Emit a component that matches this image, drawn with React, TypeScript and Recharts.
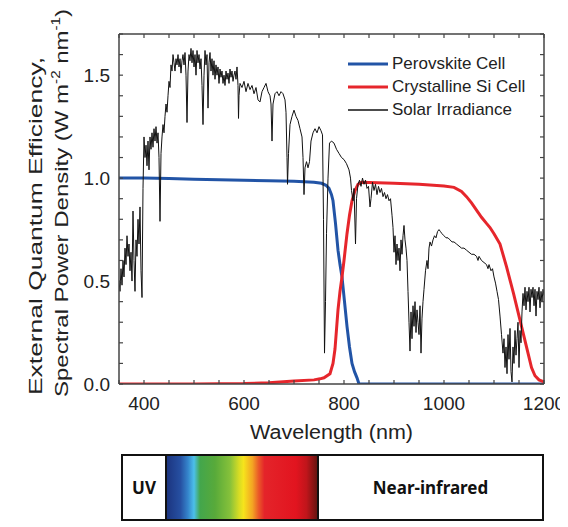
import { LineChart, Line, XAxis, YAxis } from 'recharts';

const BLUE = '#2254a6';
const RED = '#e6262c';
const INK = '#222';
const AXIS = '#444';
const FONT = '"Liberation Sans", Arial, sans-serif';
const TICK_LEN = 4;

// EQE curves, [wavelength nm, value]
const perovskiteEqe: [number, number][] = [
  [350, 1.0], [400, 1.0], [450, 0.998], [500, 0.995], [550, 0.992], [600, 0.99],
  [650, 0.987], [700, 0.985], [740, 0.98], [755, 0.975], [764, 0.965], [770, 0.95],
  [775, 0.92], [778, 0.89], [783, 0.78], [788, 0.65], [792, 0.58], [796, 0.52],
  [801, 0.4], [806, 0.28], [811, 0.18], [816, 0.1], [821, 0.06], [826, 0.03],
  [830, 0.0], [900, 0.0], [1000, 0.0], [1100, 0.0], [1200, 0.0],
];

const siliconEqe: [number, number][] = [
  [350, 0.0], [500, 0.0], [600, 0.002], [650, 0.006], [700, 0.014], [740, 0.02],
  [752, 0.025], [760, 0.03], [772, 0.05], [778, 0.1], [782, 0.17], [788, 0.36],
  [792, 0.45], [796, 0.52], [800, 0.6], [806, 0.73], [811, 0.82], [816, 0.89],
  [822, 0.94], [828, 0.97], [835, 0.98], [900, 0.975], [950, 0.97], [1000, 0.962],
  [1020, 0.955], [1035, 0.935], [1045, 0.91], [1055, 0.88], [1065, 0.845],
  [1075, 0.81], [1085, 0.78], [1092, 0.76], [1100, 0.73], [1112, 0.68],
  [1125, 0.57], [1139, 0.44], [1152, 0.31], [1165, 0.18], [1175, 0.08],
  [1182, 0.04], [1190, 0.02], [1200, 0.01],
];

// AM1.5 spectral power density, W m^-2 nm^-1
const solarIrradiance: [number, number][] = [
  [350, 0.5], [352, 0.45], [354, 0.56], [356, 0.48], [358, 0.6], [360, 0.52],
  [362, 0.66], [364, 0.58], [366, 0.72], [368, 0.62], [370, 0.68], [372, 0.55],
  [374, 0.64], [376, 0.5], [378, 0.84], [380, 0.6], [382, 0.45], [384, 0.7],
  [386, 0.62], [388, 0.8], [390, 0.68], [392, 0.86], [394, 0.55], [396, 0.42],
  [398, 0.95], [400, 1.2], [402, 1.1], [404, 1.16], [406, 1.06], [408, 1.18],
  [410, 1.04], [412, 1.2], [414, 1.14], [416, 1.22], [418, 1.15], [420, 1.24],
  [422, 1.18], [424, 1.25], [426, 1.17], [428, 1.22], [430, 1.1], [432, 0.79],
  [434, 1.12], [436, 1.2], [438, 1.26], [440, 1.22], [442, 1.3], [444, 1.36],
  [446, 1.32], [448, 1.4], [450, 1.47], [452, 1.44], [454, 1.55], [456, 1.52],
  [458, 1.6], [460, 1.56], [462, 1.52], [464, 1.58], [466, 1.55], [468, 1.6],
  [470, 1.54], [472, 1.58], [474, 1.51], [476, 1.57], [478, 1.6], [480, 1.55],
  [482, 1.61], [484, 1.5], [486, 1.27], [488, 1.52], [490, 1.6], [492, 1.57],
  [494, 1.63], [496, 1.56], [498, 1.62], [500, 1.54], [502, 1.6], [504, 1.5],
  [506, 1.62], [508, 1.56], [510, 1.6], [512, 1.53], [514, 1.58], [516, 1.45],
  [518, 1.26], [520, 1.5], [522, 1.62], [524, 1.55], [526, 1.6], [528, 1.34],
  [530, 1.56], [532, 1.61], [534, 1.52], [536, 1.58], [538, 1.5], [540, 1.57],
  [542, 1.48], [544, 1.55], [546, 1.5], [548, 1.54], [550, 1.46], [552, 1.53],
  [554, 1.49], [556, 1.52], [558, 1.46], [560, 1.5], [562, 1.45], [564, 1.52],
  [566, 1.48], [568, 1.51], [570, 1.46], [572, 1.53], [574, 1.49], [576, 1.52],
  [578, 1.47], [580, 1.5], [582, 1.52], [584, 1.48], [586, 1.54], [588, 1.45],
  [589, 1.29], [590, 1.4], [592, 1.46], [596, 1.44], [600, 1.47], [604, 1.42],
  [608, 1.46], [612, 1.43], [616, 1.45], [620, 1.41], [624, 1.44], [628, 1.38],
  [632, 1.37], [636, 1.42], [640, 1.44], [644, 1.46], [648, 1.42], [652, 1.4],
  [654, 1.36], [656, 1.18], [658, 1.36], [662, 1.41], [666, 1.42], [670, 1.4],
  [674, 1.42], [678, 1.41], [682, 1.38], [684, 1.32], [686, 1.1], [687, 0.97],
  [689, 1.12], [692, 1.26], [696, 1.3], [700, 1.33], [704, 1.3], [708, 1.28],
  [712, 1.24], [716, 1.2], [718, 1.1], [720, 0.92], [722, 1.05], [725, 1.08],
  [728, 1.05], [731, 1.08], [734, 1.18], [738, 1.22], [742, 1.24], [746, 1.22],
  [750, 1.25], [754, 1.23], [757, 1.21], [759, 0.8], [761, 0.15], [763, 0.4],
  [765, 0.73], [768, 1.0], [771, 1.17], [775, 1.18], [780, 1.17], [785, 1.14],
  [790, 1.12], [795, 1.1], [800, 1.09], [805, 1.07], [810, 1.04], [813, 1.0],
  [815, 0.94], [818, 0.89], [820, 0.95], [823, 0.68], [825, 0.9], [828, 0.97],
  [831, 0.99], [834, 0.96], [837, 1.0], [840, 0.97], [843, 0.99], [846, 0.95],
  [849, 0.96], [852, 0.86], [854, 0.9], [857, 0.98], [860, 0.94], [863, 0.97],
  [866, 0.92], [869, 0.96], [872, 0.93], [875, 0.95], [878, 0.91], [881, 0.93],
  [884, 0.9], [887, 0.92], [890, 0.89], [893, 0.9], [896, 0.82], [898, 0.76],
  [900, 0.64], [902, 0.72], [904, 0.58], [906, 0.68], [908, 0.6], [910, 0.66],
  [912, 0.55], [914, 0.7], [916, 0.63], [918, 0.72], [920, 0.77], [922, 0.7],
  [924, 0.66], [926, 0.6], [928, 0.45], [930, 0.3], [932, 0.16], [934, 0.35],
  [936, 0.22], [938, 0.38], [940, 0.28], [942, 0.4], [944, 0.25], [946, 0.36],
  [948, 0.3], [950, 0.24], [952, 0.38], [954, 0.15], [956, 0.32], [958, 0.4],
  [960, 0.46], [963, 0.55], [966, 0.6], [968, 0.56], [970, 0.66], [972, 0.69],
  [975, 0.67], [978, 0.7], [981, 0.72], [984, 0.71], [987, 0.74], [990, 0.75],
  [993, 0.74], [996, 0.73], [1000, 0.72], [1004, 0.71], [1008, 0.71], [1012, 0.7],
  [1016, 0.69], [1020, 0.69], [1025, 0.68], [1030, 0.67], [1035, 0.66], [1040, 0.66],
  [1045, 0.65], [1050, 0.64], [1055, 0.63], [1060, 0.63], [1065, 0.62], [1068, 0.6],
  [1070, 0.62], [1075, 0.6], [1080, 0.59], [1085, 0.58], [1088, 0.56], [1090, 0.58],
  [1094, 0.55], [1097, 0.56], [1100, 0.52], [1103, 0.49], [1106, 0.45], [1109, 0.41],
  [1112, 0.33], [1115, 0.24], [1118, 0.15], [1120, 0.22], [1122, 0.08], [1124, 0.18],
  [1126, 0.05], [1128, 0.24], [1130, 0.12], [1132, 0.27], [1134, 0.06], [1136, 0.01],
  [1138, 0.18], [1140, 0.1], [1142, 0.26], [1144, 0.14], [1146, 0.22], [1148, 0.3],
  [1150, 0.08], [1152, 0.26], [1154, 0.2], [1156, 0.35], [1158, 0.44], [1160, 0.38],
  [1162, 0.47], [1164, 0.36], [1166, 0.45], [1168, 0.4], [1170, 0.47], [1172, 0.35],
  [1174, 0.46], [1176, 0.42], [1178, 0.47], [1180, 0.38], [1182, 0.46], [1184, 0.33],
  [1186, 0.45], [1188, 0.41], [1190, 0.47], [1192, 0.37], [1194, 0.45], [1196, 0.4],
  [1198, 0.46], [1200, 0.43],
];

const xTicks = [350, 400, 450, 500, 550, 600, 650, 700, 750, 800, 850, 900, 950, 1000, 1050, 1100, 1150, 1200];
const xLabeled = [400, 600, 800, 1000, 1200];
const yTicks = [0, 0.1, 0.2, 0.3, 0.4, 0.5, 0.6, 0.7, 0.8, 0.9, 1.0, 1.1, 1.2, 1.3, 1.4, 1.5, 1.6, 1.7];
const yLabeled = [0, 0.5, 1.0, 1.5];

// the irradiance is drawn on the top/right axis pair (same scales) so those axes carry data too
const series = [
  { name: 'Perovskite Cell', color: BLUE, width: 3, points: perovskiteEqe, xId: 'b', yId: 'l' },
  { name: 'Crystalline Si Cell', color: RED, width: 3, points: siliconEqe, xId: 'b', yId: 'l' },
  { name: 'Solar Irradiance', color: '#111', width: 1, points: solarIrradiance, xId: 't', yId: 'r' },
];

const toRows = (pts: [number, number][]) => pts.map(([wl, v]) => ({ wl, v }));

const spectrumGradient =
  'linear-gradient(to right, #1c3580 0%, #2650a2 9%, #3585cc 14%, #4cc0ea 18%, #43a64c 22%, #58aa3a 32%, #86c13a 42%, #d6dc24 48%, #f6e41c 51%, #f3a423 57%, #ea5a28 61%, #e4242a 65%, #e2141f 86%, #c0151b 93%, #681410 100%)';

// inward ticks: each tick draws its own mark, labelled ones also get text
function BottomTick({ x, y, payload }: any) {
  const v = payload.value;
  return (
    <g>
      <line x1={x} y1={y} x2={x} y2={y - TICK_LEN} stroke={AXIS} strokeWidth={1.2} />
      {xLabeled.includes(v) && (
        <text x={x} y={y + 26} textAnchor="middle" fill={INK} fontSize={19} fontFamily={FONT}>
          {v}
        </text>
      )}
    </g>
  );
}

function TopTick({ x, y }: any) {
  return <line x1={x} y1={y} x2={x} y2={y + TICK_LEN} stroke={AXIS} strokeWidth={1.2} />;
}

function LeftTick({ x, y, payload }: any) {
  const v = payload.value;
  const labelled = yLabeled.some((t) => Math.abs(t - v) < 1e-6);
  return (
    <g>
      <line x1={x} y1={y} x2={x + TICK_LEN} y2={y} stroke={AXIS} strokeWidth={1.2} />
      {labelled && (
        <text x={x - 9} y={y + 7} textAnchor="end" fill={INK} fontSize={19} fontFamily={FONT}>
          {v.toFixed(1)}
        </text>
      )}
    </g>
  );
}

function RightTick({ x, y }: any) {
  return <line x1={x} y1={y} x2={x - TICK_LEN} y2={y} stroke={AXIS} strokeWidth={1.2} />;
}

function YTitle(props: any) {
  const vb = props.viewBox || { x: 51, y: 26, width: 60, height: 350 };
  const y0 = vb.y + vb.height + 11;
  const x1 = 34;
  const x2 = 60;
  return (
    <g fill={INK} fontFamily={FONT} fontSize={19}>
      <text x={x1} y={y0} transform={`rotate(-90, ${x1}, ${y0})`} textLength={338} lengthAdjust="spacingAndGlyphs">
        External Quantum Efficiency,
      </text>
      <text x={x2} y={y0 + 2} transform={`rotate(-90, ${x2}, ${y0 + 2})`} textLength={388} lengthAdjust="spacingAndGlyphs">
        Spectral Power Density (W m
        <tspan dy={-8} fontSize={12}>-2</tspan>
        <tspan dy={8}> nm</tspan>
        <tspan dy={-8} fontSize={12}>-1</tspan>
        <tspan dy={8}>)</tspan>
      </text>
    </g>
  );
}

function XTitle(props: any) {
  const vb = props.viewBox || { x: 111, y: 376, width: 425, height: 45 };
  return (
    <text x={vb.x + vb.width / 2} y={vb.y + 55} textAnchor="middle" fill={INK} fontFamily={FONT} fontSize={20} textLength={163} lengthAdjust="spacingAndGlyphs">
      Wavelength (nm)
    </text>
  );
}

export default function App() {
  return (
    <div style={{ position: 'relative', width: 560, fontFamily: FONT }}>
      <LineChart width={560} height={445} margin={{ top: 25, right: 23, bottom: 24, left: 51 }}>
        <XAxis
          xAxisId="b"
          dataKey="wl"
          type="number"
          domain={[350, 1200]}
          ticks={xTicks}
          interval={0}
          allowDataOverflow
          tickLine={false}
          tickSize={0}
          tickMargin={0}
          tick={<BottomTick />}
          height={45}
          stroke={AXIS}
          strokeWidth={1.5}
          label={{ content: XTitle }}
        />
        <XAxis
          xAxisId="t"
          orientation="top"
          dataKey="wl"
          type="number"
          domain={[350, 1200]}
          ticks={xTicks}
          interval={0}
          allowDataOverflow
          tickLine={false}
          tickSize={0}
          tickMargin={0}
          tick={<TopTick />}
          height={1}
          stroke={AXIS}
          strokeWidth={1.5}
        />
        <YAxis
          yAxisId="l"
          type="number"
          domain={[0, 1.7]}
          ticks={yTicks}
          interval={0}
          allowDataOverflow
          tickLine={false}
          tickSize={0}
          tickMargin={0}
          tick={<LeftTick />}
          width={60}
          stroke={AXIS}
          strokeWidth={1.5}
          label={{ content: YTitle }}
        />
        <YAxis
          yAxisId="r"
          orientation="right"
          type="number"
          domain={[0, 1.7]}
          ticks={yTicks}
          interval={0}
          allowDataOverflow
          tickLine={false}
          tickSize={0}
          tickMargin={0}
          tick={<RightTick />}
          width={1}
          stroke={AXIS}
          strokeWidth={1.5}
        />
        {series.map((s) => (
          <Line
            key={s.name}
            xAxisId={s.xId}
            yAxisId={s.yId}
            data={toRows(s.points)}
            dataKey="v"
            name={s.name}
            type="linear"
            stroke={s.color}
            strokeWidth={s.width}
            dot={false}
            activeDot={false}
            isAnimationActive={false}
          />
        ))}
      </LineChart>

      <div style={{ position: 'absolute', left: 340, top: 44 }}>
        {series.map((s) => (
          <div key={s.name} style={{ display: 'flex', alignItems: 'center', height: 23 }}>
            <svg width={40} height={6} style={{ marginRight: 4 }}>
              <line x1={0} y1={3} x2={40} y2={3} stroke={s.color} strokeWidth={s.width === 1 ? 1.5 : 3} />
            </svg>
            <span style={{ fontSize: 17, color: INK, whiteSpace: 'nowrap' }}>{s.name}</span>
          </div>
        ))}
      </div>

      <div
        style={{
          marginTop: 1,
          marginLeft: 113,
          width: 423,
          height: 67,
          border: '2px solid #111',
          boxSizing: 'border-box',
          display: 'flex',
          fontFamily: '"Noto Sans", "Open Sans", sans-serif',
          fontWeight: 700,
          fontSize: 17,
          color: '#111',
        }}
      >
        <div style={{ width: 44, borderRight: '2px solid #111', boxSizing: 'border-box', display: 'flex', alignItems: 'center', justifyContent: 'center' }}>
          UV
        </div>
        <div style={{ width: 150, background: spectrumGradient }} />
        <div style={{ flex: 1, borderLeft: '2px solid #111', display: 'flex', alignItems: 'center', justifyContent: 'center' }}>
          Near-infrared
        </div>
      </div>
    </div>
  );
}
